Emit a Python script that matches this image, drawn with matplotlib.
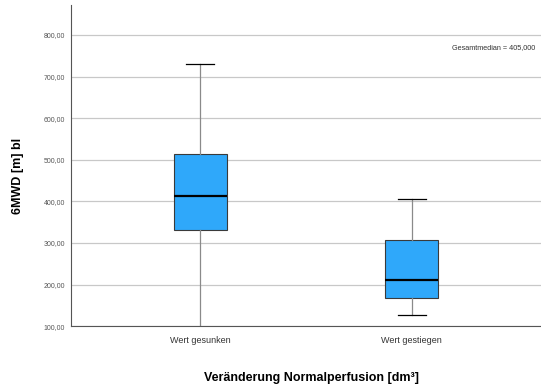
import matplotlib
matplotlib.use('Agg')
import matplotlib.pyplot as plt

# Daten
kategorien = ['Wert gesunken', 'Wert gestiegen']
whisker_unten = [95, 126]
q1 = [331, 167]
median = [413, 210]
q3 = [514, 306]
whisker_oben = [730, 405]
y_ticks = [100, 200, 300, 400, 500, 600, 700, 800]
gesamtmedian = 405.0

plt.rcParams['font.family'] = ['Liberation Sans Narrow', 'Liberation Sans', 'DejaVu Sans']

fig = plt.figure(figsize=(5.41, 3.92), dpi=100)
ax = fig.add_axes([0.131, 0.168, 0.869, 0.819])

stats = []
for i in range(len(kategorien)):
    stats.append({'label': kategorien[i], 'whislo': whisker_unten[i], 'q1': q1[i],
                  'med': median[i], 'q3': q3[i], 'whishi': whisker_oben[i], 'fliers': []})

ax.set_axisbelow(True)
ax.yaxis.grid(True, color='#c8c8c8', linewidth=0.9)
bp = ax.bxp(stats, positions=[1, 2], widths=0.25, patch_artist=True, showfliers=False,
            boxprops=dict(facecolor='#2fa8fa', edgecolor='#3a3a3a', linewidth=0.8),
            medianprops=dict(color='black', linewidth=1.6),
            whiskerprops=dict(color='#8a8a8a', linewidth=0.9),
            capprops=dict(color='black', linewidth=0.9), capwidths=0.13)

ax.set_xlim(0.39, 2.61)
ax.set_ylim(100, 872)
ax.set_yticks(y_ticks)
ax.set_yticklabels([f'{v:.2f}'.replace('.', ',') for v in y_ticks], fontsize=5, color='#555555')
ax.set_xticks([1, 2])
ax.set_xticklabels(kategorien, fontsize=6.5, color='#333333')
ax.tick_params(axis='y', length=0, pad=4)
ax.tick_params(axis='x', length=0, pad=7)

for s in ['top', 'right']:
    ax.spines[s].set_visible(False)
ax.spines['left'].set_color('#555555')
ax.spines['bottom'].set_color('#555555')

ax.text(0.988, 0.869, 'Gesamtmedian = ' + f'{gesamtmedian:.3f}'.replace('.', ','),
        transform=ax.transAxes, ha='right', va='center', fontsize=5.2, color='#333333')

fig.text(0.034, 0.55, '6MWD [m] bl', rotation=90, ha='center', va='center',
         fontsize=9, fontweight='bold', family=['Liberation Sans', 'DejaVu Sans'])
fig.text(0.575, 0.036, 'Veränderung Normalperfusion [dm³]', ha='center', va='center',
         fontsize=9, fontweight='bold', family=['Liberation Sans', 'DejaVu Sans'])

fig.savefig('out.png', dpi=100)
